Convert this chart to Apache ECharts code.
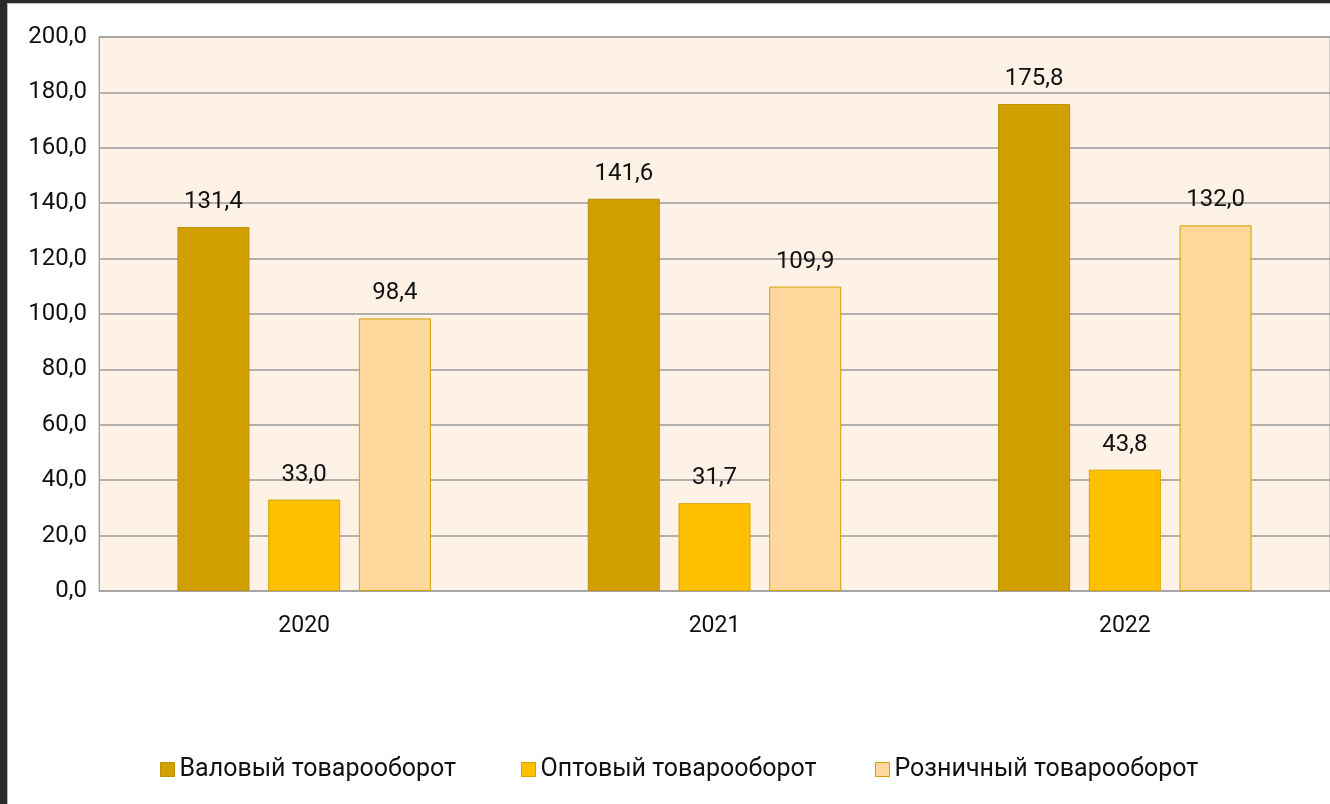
<!DOCTYPE html>
<html><head><meta charset="utf-8">
<script src="https://cdn.jsdelivr.net/npm/echarts@6/dist/echarts.min.js"></script>
<style>html,body{margin:0;padding:0;background:#fff;}#c{width:1330px;height:804px;}</style>
</head><body><div id="c"></div>
<script>
const categories = ['2020', '2021', '2022'];
const seriesNames = ['Валовый товарооборот', 'Оптовый товарооборот', 'Розничный товарооборот'];
const gross = [131.4, 141.6, 175.8];
const wholesale = [33.0, 31.7, 43.8];
const retail = [98.4, 109.9, 132.0];
const yTicks = [0, 20, 40, 60, 80, 100, 120, 140, 160, 180, 200];

const FONT = 'Roboto, "Noto Sans", sans-serif';
const fmt = v => v.toFixed(1).replace('.', ',');
const colors = ['#D29F00', '#FFC000', '#FFD89E'];
const borders = ['#C09000', '#D9A200', '#D4A000'];
const datas = [gross, wholesale, retail];
const legendLefts = [160, 521, 875];

const chart = echarts.init(document.getElementById('c'), null, {renderer: 'canvas'});
chart.setOption({
  animation: false,
  textStyle: {fontFamily: FONT},
  grid: {left: 99, right: -2, top: 37, bottom: 213, show: true, backgroundColor: '#FEF2E6', borderColor: '#A6A6A6', borderWidth: 1},
  legend: seriesNames.map((n, i) => ({
    left: legendLefts[i], top: 757, padding: 0, itemWidth: 14, itemHeight: 14, itemGap: 10,
    textStyle: {fontSize: 25, color: '#111', fontFamily: FONT},
    data: [{name: n, icon: 'rect', itemStyle: {color: colors[i], borderColor: borders[i], borderWidth: 1}}]
  })),
  xAxis: {
    type: 'category', data: categories,
    axisLine: {show: true, lineStyle: {color: '#A6A6A6', width: 1}},
    axisTick: {show: false},
    axisLabel: {fontSize: 23, color: '#111', margin: 24, fontFamily: FONT}
  },
  yAxis: {
    type: 'value', min: yTicks[0], max: yTicks[yTicks.length - 1], interval: 20,
    axisLine: {show: true, lineStyle: {color: '#A6A6A6'}},
    axisTick: {show: false},
    splitLine: {lineStyle: {color: '#999', width: 1.5}},
    axisLabel: {fontSize: 24, color: '#111', margin: 12, fontFamily: FONT, formatter: v => fmt(v)}
  },
  series: seriesNames.map((n, i) => ({
    name: n, type: 'bar', data: datas[i], barWidth: 72, barGap: '26%',
    itemStyle: {color: colors[i], borderColor: borders[i], borderWidth: 1},
    label: {show: true, position: 'top', distance: 13, fontSize: 24, color: '#111', fontFamily: FONT, formatter: p => fmt(p.value)}
  })),
  graphic: [
    {type: 'rect', left: 0, top: 0, shape: {width: 7, height: 804}, style: {fill: '#2A2A2A'}, silent: true},
    {type: 'rect', left: 0, top: 0, shape: {width: 1330, height: 3}, style: {fill: '#2A2A2A'}, silent: true},
    {type: 'rect', left: 7, top: 3, shape: {width: 1, height: 801}, style: {fill: '#BBBBBB'}, silent: true},
    {type: 'rect', left: 7, top: 3, shape: {width: 1323, height: 1}, style: {fill: '#BBBBBB'}, silent: true}
  ]
});
</script></body></html>
